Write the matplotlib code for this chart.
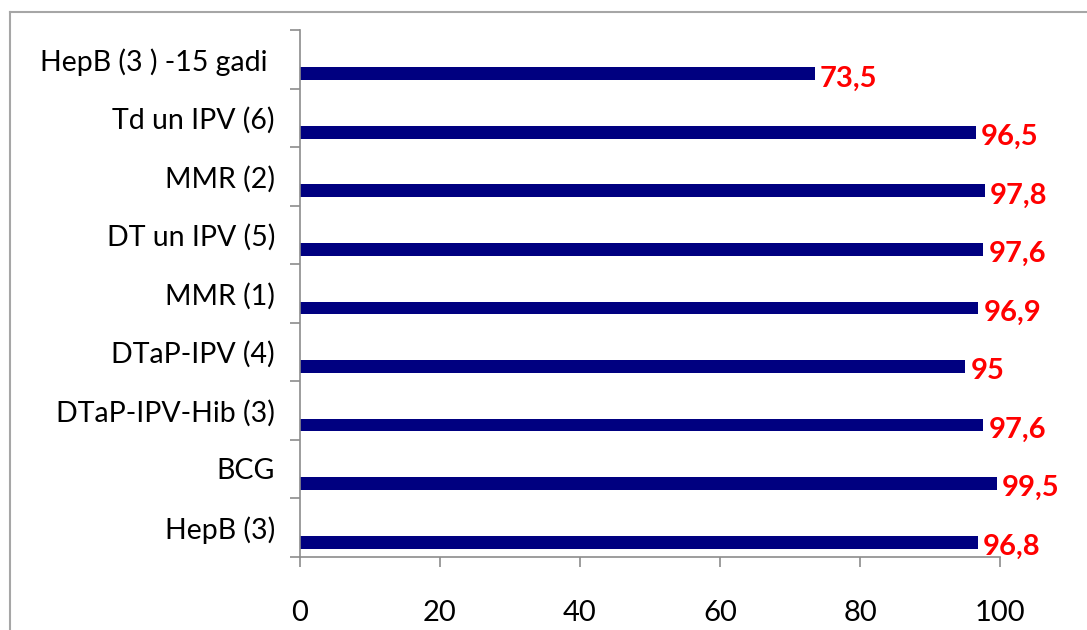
import numpy as np
import matplotlib
matplotlib.use("Agg")
import matplotlib.pyplot as plt
from matplotlib.lines import Line2D

# vakcinācijas aptvere, % (no apakšas uz augšu)
labels = ["HepB (3)", "BCG", "DTaP-IPV-Hib (3)", "DTaP-IPV (4)", "MMR (1)",
          "DT un IPV (5)", "MMR (2)", "Td un IPV (6)", "HepB (3 ) -15 gadi "]
coverage = [96.8, 99.5, 97.6, 95.0, 96.9, 97.6, 97.8, 96.5, 73.5]
x_ticks = [0, 20, 40, 60, 80, 100]

plt.rcParams['font.family'] = ['Lato', 'DejaVu Sans']

W, H = 1087, 630
fig = plt.figure(figsize=(W / 100, H / 100), dpi=100)
ax = fig.add_axes([300 / W, 1 - 556.7 / H, 700 / W, (556.7 - 30) / H])

pos = np.arange(len(labels))
ax.barh(pos - 0.25, coverage, height=0.22, color='#000080')

for y, v in zip(pos, coverage):
    txt = f"{v:g}".replace('.', ',')
    ax.annotate(txt, (v, y - 0.33), xytext=(4, 0), textcoords='offset points',
                color='#ff0000', fontsize=21, fontweight='bold',
                fontstyle='normal', ha='left', va='center')

ax.set_xlim(0, 100)
ax.set_ylim(-0.5, len(labels) - 0.5)

axis_grey = '#8c8c8c'
for side in ['top', 'right']:
    ax.spines[side].set_visible(False)
for side in ['left', 'bottom']:
    ax.spines[side].set_color(axis_grey)
    ax.spines[side].set_linewidth(1.2)

# y ticks at category boundaries, labels in between
ax.set_yticks(np.arange(-0.5, len(labels), 1.0))
ax.set_yticklabels([])
ax.set_yticks(pos, minor=True)
ax.set_yticklabels(labels, minor=True, fontsize=20.5)
ax.tick_params(axis='y', which='major', direction='out', length=7.5,
               color=axis_grey, width=1.2)
ax.tick_params(axis='y', which='minor', length=0, pad=18)

ax.set_xticks(x_ticks)
ax.set_xticklabels([str(t) for t in x_ticks], fontsize=21)
ax.tick_params(axis='x', direction='out', length=7.5, color=axis_grey,
               width=1.2, pad=24)

# outer chart border (top and left edges visible)
fig.add_artist(Line2D([10 / W, 1], [1 - 12 / H, 1 - 12 / H], color='#a6a6a6', lw=1.5))
fig.add_artist(Line2D([10 / W, 10 / W], [0, 1 - 12 / H], color='#a6a6a6', lw=1.5))

fig.savefig("out.png", dpi=100, facecolor='white')
